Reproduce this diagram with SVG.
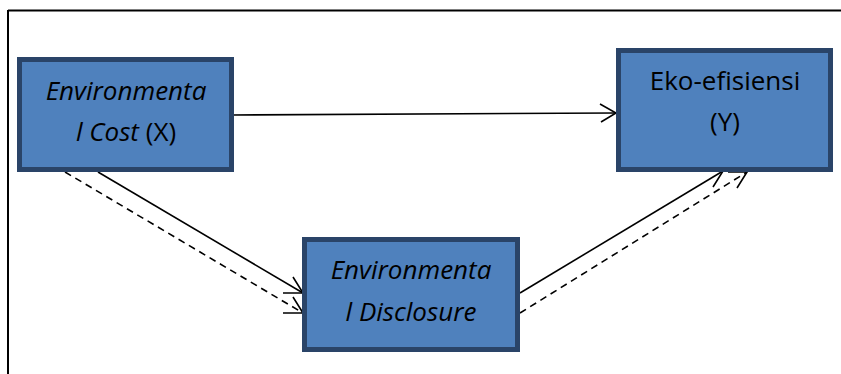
<svg xmlns="http://www.w3.org/2000/svg" width="841" height="374" viewBox="0 0 841 374">
<style>
.box{fill:#4f81bd;stroke:#2a4468;stroke-width:5}
.t{font-family:"Open Sans","Noto Sans","Liberation Sans",sans-serif;font-size:26px;fill:#000;text-anchor:middle}
.i{font-style:italic}
.c{stroke:#000;stroke-width:1.6;fill:none}
.d{stroke-dasharray:7,5}
</style>
<rect width="841" height="374" fill="#fff"/>
<g id="frame">
<line x1="8" y1="10.5" x2="841" y2="10.5" stroke="#000" stroke-width="2"/>
<line x1="8" y1="10" x2="8" y2="374" stroke="#000" stroke-width="2"/>
</g>
<g id="connectors">
<line class="c" x1="232" y1="115" x2="616" y2="113"/>
<path class="c" d="M600,104 L616,113 L601,122"/>
<line class="c" x1="98" y1="172" x2="303" y2="293"/>
<path class="c" d="M283,293 L303,293 L293,277"/>
<line class="c d" x1="65" y1="172" x2="303" y2="313"/>
<path class="c" d="M283,313 L303,313 L293,297"/>
<line class="c" x1="520" y1="293" x2="723" y2="171"/>
<path class="c" d="M703,171 L723,171 L713,187"/>
<line class="c d" x1="520" y1="313" x2="747" y2="172"/>
<path class="c" d="M728,172 L747,172 L737,188"/>
</g>
<g id="node-x">
<rect class="box" x="19.5" y="59.5" width="212" height="110"/>
<text class="t i" x="126" y="100">Environmenta</text>
<text class="t" x="126" y="141"><tspan class="i">l Cost</tspan> (X)</text>
</g>
<g id="node-y">
<rect class="box" x="618.5" y="50.5" width="212" height="119"/>
<text class="t" x="725" y="90">Eko-efisiensi</text>
<text class="t" x="725" y="131">(Y)</text>
</g>
<g id="node-z">
<rect class="box" x="304.5" y="239.5" width="213" height="110"/>
<text class="t i" x="411" y="279">Environmenta</text>
<text class="t i" x="411" y="321">l Disclosure</text>
</g>
</svg>
